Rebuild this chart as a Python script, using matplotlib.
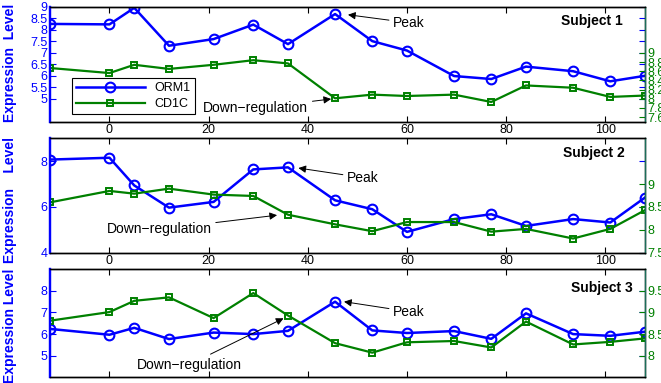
import matplotlib
matplotlib.use('Agg')
import matplotlib.pyplot as plt

plt.rcParams['font.family'] = ['Liberation Sans', 'DejaVu Sans']

# sampling days, shared by all subjects
days = [-12, 0, 5, 12, 21, 29, 36, 45.5, 53, 60, 69.5, 77, 84, 93.5, 101, 108]

orm1_s1 = [8.26, 8.24, 8.96, 7.31, 7.60, 8.23, 7.38, 8.69, 7.51, 7.10, 5.99, 5.86, 6.40, 6.20, 5.76, 6.00]
cd1c_s1 = [8.67, 8.56, 8.74, 8.65, 8.74, 8.84, 8.77, 8.01, 8.09, 8.06, 8.09, 7.93, 8.29, 8.24, 8.04, 8.07]

orm1_s2 = [8.07, 8.15, 6.94, 5.97, 6.22, 7.64, 7.73, 6.29, 5.90, 4.91, 5.47, 5.68, 5.17, 5.47, 5.32, 6.41]
cd1c_s2 = [8.60, 8.85, 8.79, 8.90, 8.77, 8.74, 8.33, 8.12, 7.97, 8.17, 8.17, 7.96, 8.02, 7.81, 8.02, 8.43]

orm1_s3 = [6.24, 5.97, 6.29, 5.77, 6.07, 6.00, 6.15, 7.50, 6.17, 6.05, 6.14, 5.78, 6.96, 6.00, 5.92, 6.11]
cd1c_s3 = [8.81, 9.01, 9.27, 9.35, 8.87, 9.45, 8.93, 8.29, 8.07, 8.31, 8.34, 8.19, 8.79, 8.26, 8.32, 8.40]

subjects = ['Subject 1', 'Subject 2', 'Subject 3']
orm1 = [orm1_s1, orm1_s2, orm1_s3]
cd1c = [cd1c_s1, cd1c_s2, cd1c_s3]

left_ticks = [[5, 5.5, 6, 6.5, 7, 7.5, 8, 8.5, 9], [4, 6, 8], [5, 6, 7, 8]]
right_ticks = [[7.6, 7.8, 8, 8.2, 8.4, 8.6, 8.8, 9], [7.5, 8, 8.5, 9], [8, 8.5, 9, 9.5]]
right_labels = [['7.6', '7.8', '8', '8.2', '8.4', '8.6', '8.8', '9'],
                ['7.5', '8', '8.5', '9'], ['8', '8.5', '9', '9.5']]
ylabels = ['Expression  Level', 'Expression    Level', 'Expression Level']

# (tip, text) in left-axis data coordinates
peak_notes = [((48.1, 8.66), (57.2, 8.31)), ((38.1, 7.70), (47.9, 7.28)), ((47.3, 7.50), (57.2, 7.04))]
down_notes = [((44.7, 4.99), (40.1, 4.59)), ((33.8, 5.64), (20.6, 5.02)), ((35.1, 6.73), (26.7, 4.59))]

blue = (0, 0, 1)
green = (0, 0.5, 0)

fig = plt.figure(figsize=(6.61, 3.83), dpi=100)

boxes = [[0.0756, 0.6822, 0.9002, 0.2997],
         [0.0756, 0.3402, 0.9002, 0.2987],
         [0.0756, 0.0149, 0.9002, 0.2820]]
label_y = [0.51, 0.46, 0.48]
subj_pos = [(0.9625, 0.874), (0.966, 0.869), (0.98, 0.824)]

for i in range(3):
    ax = fig.add_axes(boxes[i])
    ax2 = ax.twinx()

    l1, = ax.plot(days, orm1[i], '-o', color=blue, lw=1.8, ms=7, mfc='none', mew=1.5, label='ORM1')
    l2, = ax2.plot(days, cd1c[i], '-s', color=green, lw=1.6, ms=5, mfc='none', mew=1.4, label='CD1C')

    ax.set_xlim(-12, 108)
    ax.set_ylim(4, 9)
    ax2.set_ylim(7.5, 10)
    ax.set_xticks([0, 20, 40, 60, 80, 100])

    ax.set_yticks(left_ticks[i])
    ax.set_yticklabels([('%g' % t) for t in left_ticks[i]])
    ax2.set_yticks(right_ticks[i])
    ax2.set_yticklabels(right_labels[i])

    # bottom panel's day labels fall below the figure edge
    ax.tick_params(axis='x', direction='in', top=True, length=4, labelsize=9, pad=2,
                   labelbottom=(i < 2))
    ax.tick_params(axis='y', direction='in', colors=blue, right=True, length=4, labelsize=9, pad=2)
    ax2.tick_params(axis='y', direction='in', colors=green, length=4, labelsize=9, pad=2)

    ax.spines['left'].set_color(blue)
    ax2.spines['left'].set_color(blue)
    ax2.spines['right'].set_color('#1c6e5a')
    for a in (ax, ax2):
        for s in a.spines.values():
            s.set_linewidth(1.0)
    ax.spines['left'].set_linewidth(1.6)
    ax2.spines['left'].set_linewidth(1.6)

    ax.set_ylabel(ylabels[i], color=blue, fontsize=10, fontweight='bold')
    ax.yaxis.set_label_coords(-0.055, label_y[i])

    ax2.text(subj_pos[i][0], subj_pos[i][1], subjects[i], transform=ax.transAxes,
             ha='right', va='center', fontsize=10, fontweight='bold')

    arrow = dict(arrowstyle='-|>', color='k', lw=0.7, shrinkA=1, shrinkB=0, mutation_scale=11)
    tip, txt = peak_notes[i]
    ax2.annotate('Peak', xy=tip, xycoords=ax.transData, xytext=txt, textcoords=ax.transData,
                 ha='left', va='center', fontsize=10, arrowprops=arrow)
    tip, txt = down_notes[i]
    ax2.annotate('Down\u2212regulation', xy=tip, xycoords=ax.transData, xytext=txt,
                 textcoords=ax.transData, ha='right', va='center', fontsize=10, arrowprops=arrow)

    if i == 0:
        leg = ax2.legend([l1, l2], ['ORM1', 'CD1C'], loc='lower left',
                         bbox_to_anchor=(0.026, 0.01), fontsize=9, handlelength=5.5,
                         fancybox=False, framealpha=1, edgecolor='k',
                         borderpad=0.35, labelspacing=0.3, handletextpad=0.8)
        leg.get_frame().set_linewidth(0.8)

fig.savefig('out.png', dpi=100)
